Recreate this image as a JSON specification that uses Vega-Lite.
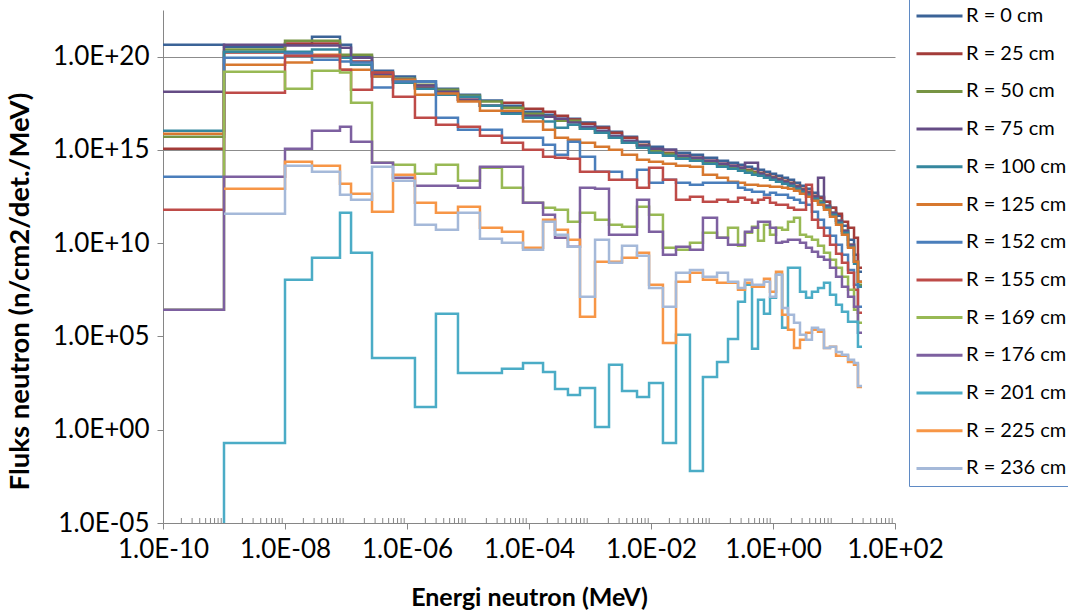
{
"$schema": "https://vega.github.io/schema/vega-lite/v6.json",
"width": 732, "height": 513,
"autosize": {"type": "none"},
"padding": {"left": 163, "top": 10, "right": 173, "bottom": 88},
"background": "white",
"config": {"view": {"stroke": null}, "font": "Lato"},
"layer": [
{
"data": {"values": [
{"r":0,"e":1e-10,"f":4.4e20},{"r":0,"e":1e-9,"f":3.4e20},{"r":0,"e":1e-8,"f":4.4e20},{"r":0,"e":2.77e-8,"f":1.18e21},{"r":0,"e":7.97e-8,"f":4.4e20},{"r":0,"e":1.21e-7,"f":1.0e20},{"r":0,"e":2.67e-7,"f":1.77e19},{"r":0,"e":5.9e-7,"f":8.5e18},{"r":0,"e":1.35e-6,"f":4.6e18},{"r":0,"e":2.98e-6,"f":1.92e18},{"r":0,"e":6.85e-6,"f":9.1e17},{"r":0,"e":1.57e-5,"f":4.4e17},{"r":0,"e":3.6e-5,"f":2.35e17},{"r":0,"e":7.98e-5,"f":1.12e17},{"r":0,"e":1.7e-4,"f":7.7e16},{"r":0,"e":2.67e-4,"f":4.7e16},{"r":0,"e":4.35e-4,"f":4.7e16},{"r":0,"e":6.85e-4,"f":2.9e16},{"r":0,"e":1.21e-3,"f":1.76e16},{"r":0,"e":2.05e-3,"f":9.5e15},{"r":0,"e":3.35e-3,"f":5.1e15},{"r":0,"e":5.9e-3,"f":2.75e15},{"r":0,"e":9.3e-3,"f":1.49e15},{"r":0,"e":1.57e-2,"f":1.03e15},{"r":0,"e":2.57e-2,"f":7.1e14},{"r":0,"e":4.35e-2,"f":5.5e14},{"r":0,"e":7.1e-2,"f":3.8e14},{"r":0,"e":0.121,"f":2.6e14},{"r":0,"e":0.183,"f":2.06e14},{"r":0,"e":0.267,"f":1.61e14},{"r":0,"e":0.347,"f":1.26e14},{"r":0,"e":0.453,"f":9.8e13},{"r":0,"e":0.568,"f":8.7e13},{"r":0,"e":0.711,"f":6.8e13},{"r":0,"e":0.893,"f":5.3e13},{"r":0,"e":1.12,"f":4.1e13},{"r":0,"e":1.41,"f":3.2e13},{"r":0,"e":1.76,"f":2.5e13},{"r":0,"e":2.21,"f":1.74e13},{"r":0,"e":2.77,"f":1.2e13},{"r":0,"e":3.48,"f":8.3e12},{"r":0,"e":4.35,"f":5.1e12},{"r":0,"e":5.47,"f":3.1e12},{"r":0,"e":6.85,"f":1.66e12},{"r":0,"e":8.6,"f":7.9e11},{"r":0,"e":10.8,"f":2.95e11},{"r":0,"e":13.5,"f":8.6e10},{"r":0,"e":17,"f":1.52e10},{"r":0,"e":21.3,"f":2.4e9},{"r":0,"e":24.7,"f":2.9e8},{"r":0,"e":28.8,"f":2.9e8},
{"r":25,"e":1e-10,"f":1.16e15},{"r":25,"e":1e-9,"f":1.64e20},{"r":25,"e":1e-8,"f":5.0e20},{"r":25,"e":2.77e-8,"f":5.0e20},{"r":25,"e":7.97e-8,"f":1.13e20},{"r":25,"e":1.21e-7,"f":5.4e19},{"r":25,"e":2.67e-7,"f":9.6e18},{"r":25,"e":5.9e-7,"f":4.6e18},{"r":25,"e":1.35e-6,"f":2.2e18},{"r":25,"e":2.98e-6,"f":1.04e18},{"r":25,"e":6.85e-6,"f":4.9e17},{"r":25,"e":1.57e-5,"f":2.35e17},{"r":25,"e":3.6e-5,"f":3.4e17},{"r":25,"e":7.98e-5,"f":1.62e17},{"r":25,"e":1.7e-4,"f":1.12e17},{"r":25,"e":2.67e-4,"f":6.8e16},{"r":25,"e":4.35e-4,"f":4.2e16},{"r":25,"e":6.85e-4,"f":2.5e16},{"r":25,"e":1.21e-3,"f":1.55e16},{"r":25,"e":2.05e-3,"f":8.4e15},{"r":25,"e":3.35e-3,"f":4.5e15},{"r":25,"e":5.9e-3,"f":1.9e15},{"r":25,"e":9.3e-3,"f":1.03e15},{"r":25,"e":1.57e-2,"f":7.1e14},{"r":25,"e":2.57e-2,"f":4.9e14},{"r":25,"e":4.35e-2,"f":3.8e14},{"r":25,"e":7.1e-2,"f":2.6e14},{"r":25,"e":0.121,"f":1.82e14},{"r":25,"e":0.183,"f":1.42e14},{"r":25,"e":0.267,"f":1.11e14},{"r":25,"e":0.347,"f":8.7e13},{"r":25,"e":0.453,"f":6.8e13},{"r":25,"e":0.568,"f":6.0e13},{"r":25,"e":0.711,"f":4.7e13},{"r":25,"e":0.893,"f":3.65e13},{"r":25,"e":1.12,"f":2.85e13},{"r":25,"e":1.41,"f":2.2e13},{"r":25,"e":1.76,"f":1.74e13},{"r":25,"e":2.21,"f":1.2e13},{"r":25,"e":2.77,"f":8.3e12},{"r":25,"e":3.48,"f":5.7e12},{"r":25,"e":4.35,"f":3.5e12},{"r":25,"e":5.47,"f":2.7e12},{"r":25,"e":6.85,"f":1.66e12},{"r":25,"e":8.6,"f":7.9e11},{"r":25,"e":10.8,"f":3.8e11},{"r":25,"e":13.5,"f":1.4e11},{"r":25,"e":17,"f":6.7e10},{"r":25,"e":21.3,"f":1.95e10},{"r":25,"e":24.7,"f":4.8e8},{"r":25,"e":28.8,"f":4.8e8},
{"r":50,"e":1e-10,"f":5.1e15},{"r":50,"e":1e-9,"f":2.4e20},{"r":50,"e":1e-8,"f":7.2e20},{"r":50,"e":2.77e-8,"f":7.2e20},{"r":50,"e":7.97e-8,"f":1.28e20},{"r":50,"e":1.21e-7,"f":1.28e20},{"r":50,"e":2.67e-7,"f":1.39e19},{"r":50,"e":5.9e-7,"f":6.6e18},{"r":50,"e":1.35e-6,"f":3.1e18},{"r":50,"e":2.98e-6,"f":1.7e18},{"r":50,"e":6.85e-6,"f":8.1e17},{"r":50,"e":1.57e-5,"f":3.9e17},{"r":50,"e":3.6e-5,"f":1.84e17},{"r":50,"e":7.98e-5,"f":8.8e16},{"r":50,"e":1.7e-4,"f":6.0e16},{"r":50,"e":2.67e-4,"f":3.7e16},{"r":50,"e":4.35e-4,"f":3.7e16},{"r":50,"e":6.85e-4,"f":1.37e16},{"r":50,"e":1.21e-3,"f":8.4e15},{"r":50,"e":2.05e-3,"f":4.5e15},{"r":50,"e":3.35e-3,"f":2.4e15},{"r":50,"e":5.9e-3,"f":1.68e15},{"r":50,"e":9.3e-3,"f":9.1e14},{"r":50,"e":1.57e-2,"f":6.3e14},{"r":50,"e":2.57e-2,"f":4.3e14},{"r":50,"e":4.35e-2,"f":3.4e14},{"r":50,"e":7.1e-2,"f":2.3e14},{"r":50,"e":0.121,"f":1.61e14},{"r":50,"e":0.183,"f":1.26e14},{"r":50,"e":0.267,"f":9.8e13},{"r":50,"e":0.347,"f":7.7e13},{"r":50,"e":0.453,"f":6.0e13},{"r":50,"e":0.568,"f":5.3e13},{"r":50,"e":0.711,"f":4.1e13},{"r":50,"e":0.893,"f":3.2e13},{"r":50,"e":1.12,"f":2.5e13},{"r":50,"e":1.41,"f":1.97e13},{"r":50,"e":1.76,"f":1.54e13},{"r":50,"e":2.21,"f":1.06e13},{"r":50,"e":2.77,"f":7.3e12},{"r":50,"e":3.48,"f":5.1e12},{"r":50,"e":4.35,"f":3.1e12},{"r":50,"e":5.47,"f":1.88e12},{"r":50,"e":6.85,"f":1.01e12},{"r":50,"e":8.6,"f":4.3e11},{"r":50,"e":10.8,"f":1.6e11},{"r":50,"e":13.5,"f":4.6e10},{"r":50,"e":17,"f":8.2e9},{"r":50,"e":21.3,"f":1.0e9},{"r":50,"e":24.7,"f":5.9e7},{"r":50,"e":28.8,"f":5.9e7},
{"r":75,"e":1e-10,"f":1.33e18},{"r":75,"e":1e-9,"f":4.4e20},{"r":75,"e":1e-8,"f":3.9e20},{"r":75,"e":2.77e-8,"f":3.9e20},{"r":75,"e":7.97e-8,"f":3.0e20},{"r":75,"e":1.21e-7,"f":8.8e19},{"r":75,"e":2.67e-7,"f":1.22e19},{"r":75,"e":5.9e-7,"f":5.8e18},{"r":75,"e":1.35e-6,"f":2.8e18},{"r":75,"e":2.98e-6,"f":1.33e18},{"r":75,"e":6.85e-6,"f":4.9e17},{"r":75,"e":1.57e-5,"f":2.35e17},{"r":75,"e":3.6e-5,"f":9.9e16},{"r":75,"e":7.98e-5,"f":6.8e16},{"r":75,"e":1.7e-4,"f":6.0e16},{"r":75,"e":2.67e-4,"f":4.7e16},{"r":75,"e":4.35e-4,"f":2.9e16},{"r":75,"e":6.85e-4,"f":1.76e16},{"r":75,"e":1.21e-3,"f":1.07e16},{"r":75,"e":2.05e-3,"f":5.8e15},{"r":75,"e":3.35e-3,"f":3.1e15},{"r":75,"e":5.9e-3,"f":1.68e15},{"r":75,"e":9.3e-3,"f":1.16e15},{"r":75,"e":1.57e-2,"f":1.03e15},{"r":75,"e":2.57e-2,"f":4.9e14},{"r":75,"e":4.35e-2,"f":3.8e14},{"r":75,"e":7.1e-2,"f":2.6e14},{"r":75,"e":0.121,"f":1.82e14},{"r":75,"e":0.183,"f":1.42e14},{"r":75,"e":0.267,"f":1.11e14},{"r":75,"e":0.347,"f":2.06e14},{"r":75,"e":0.453,"f":2.06e14},{"r":75,"e":0.568,"f":5.3e13},{"r":75,"e":0.711,"f":4.1e13},{"r":75,"e":0.893,"f":3.2e13},{"r":75,"e":1.12,"f":2.5e13},{"r":75,"e":1.41,"f":1.97e13},{"r":75,"e":1.76,"f":1.54e13},{"r":75,"e":2.21,"f":1.06e13},{"r":75,"e":2.77,"f":7.3e12},{"r":75,"e":3.48,"f":5.1e12},{"r":75,"e":4.35,"f":3.1e12},{"r":75,"e":5.47,"f":3.2e13},{"r":75,"e":6.85,"f":1.01e12},{"r":75,"e":8.6,"f":4.3e11},{"r":75,"e":10.8,"f":1.6e11},{"r":75,"e":13.5,"f":4.6e10},{"r":75,"e":17,"f":8.2e9},{"r":75,"e":21.3,"f":1.0e9},{"r":75,"e":24.7,"f":8.5e7},{"r":75,"e":28.8,"f":8.5e7},
{"r":100,"e":1e-10,"f":1.07e16},{"r":100,"e":1e-9,"f":1.85e20},{"r":100,"e":1e-8,"f":1.85e20},{"r":100,"e":2.77e-8,"f":2.4e20},{"r":100,"e":7.97e-8,"f":8.8e19},{"r":100,"e":1.21e-7,"f":3.7e19},{"r":100,"e":2.67e-7,"f":8.5e18},{"r":100,"e":5.9e-7,"f":4.0e18},{"r":100,"e":1.35e-6,"f":1.92e18},{"r":100,"e":2.98e-6,"f":9.1e17},{"r":100,"e":6.85e-6,"f":7.1e17},{"r":100,"e":1.57e-5,"f":2.35e17},{"r":100,"e":3.6e-5,"f":8.8e16},{"r":100,"e":7.98e-5,"f":5.3e16},{"r":100,"e":1.7e-4,"f":3.3e16},{"r":100,"e":2.67e-4,"f":1.55e16},{"r":100,"e":4.35e-4,"f":2.25e16},{"r":100,"e":6.85e-4,"f":1.37e16},{"r":100,"e":1.21e-3,"f":8.4e15},{"r":100,"e":2.05e-3,"f":4.5e15},{"r":100,"e":3.35e-3,"f":2.4e15},{"r":100,"e":5.9e-3,"f":1.31e15},{"r":100,"e":9.3e-3,"f":7.1e14},{"r":100,"e":1.57e-2,"f":4.9e14},{"r":100,"e":2.57e-2,"f":3.4e14},{"r":100,"e":4.35e-2,"f":2.6e14},{"r":100,"e":7.1e-2,"f":1.82e14},{"r":100,"e":0.121,"f":1.26e14},{"r":100,"e":0.183,"f":9.8e13},{"r":100,"e":0.267,"f":7.7e13},{"r":100,"e":0.347,"f":6.0e13},{"r":100,"e":0.453,"f":4.7e13},{"r":100,"e":0.568,"f":4.1e13},{"r":100,"e":0.711,"f":3.2e13},{"r":100,"e":0.893,"f":2.5e13},{"r":100,"e":1.12,"f":1.97e13},{"r":100,"e":1.41,"f":1.54e13},{"r":100,"e":1.76,"f":1.2e13},{"r":100,"e":2.21,"f":8.3e12},{"r":100,"e":2.77,"f":5.7e12},{"r":100,"e":3.48,"f":3.95e12},{"r":100,"e":4.35,"f":2.4e12},{"r":100,"e":5.47,"f":1.47e12},{"r":100,"e":6.85,"f":7.9e11},{"r":100,"e":8.6,"f":3.3e11},{"r":100,"e":10.8,"f":1.24e11},{"r":100,"e":13.5,"f":3.6e10},{"r":100,"e":17,"f":6.4e9},{"r":100,"e":21.3,"f":7.9e8},{"r":100,"e":24.7,"f":4.6e7},{"r":100,"e":28.8,"f":4.6e7},
{"r":125,"e":1e-10,"f":7.4e15},{"r":125,"e":1e-9,"f":3.7e19},{"r":125,"e":1e-8,"f":4.8e19},{"r":125,"e":2.77e-8,"f":1.28e20},{"r":125,"e":7.97e-8,"f":2.0e19},{"r":125,"e":1.21e-7,"f":2.0e19},{"r":125,"e":2.67e-7,"f":8.5e18},{"r":125,"e":5.9e-7,"f":5.8e18},{"r":125,"e":1.35e-6,"f":9.1e17},{"r":125,"e":2.98e-6,"f":1.04e18},{"r":125,"e":6.85e-6,"f":3.9e17},{"r":125,"e":1.57e-5,"f":1.27e17},{"r":125,"e":3.6e-5,"f":1.27e17},{"r":125,"e":7.98e-5,"f":3.3e16},{"r":125,"e":1.7e-4,"f":1.21e16},{"r":125,"e":2.67e-4,"f":4.5e15},{"r":125,"e":4.35e-4,"f":3.5e15},{"r":125,"e":6.85e-4,"f":2.4e15},{"r":125,"e":1.21e-3,"f":1.49e15},{"r":125,"e":2.05e-3,"f":1.03e15},{"r":125,"e":3.35e-3,"f":5.5e14},{"r":125,"e":5.9e-3,"f":3.0e14},{"r":125,"e":9.3e-3,"f":2.3e14},{"r":125,"e":1.57e-2,"f":1.82e14},{"r":125,"e":2.57e-2,"f":1.42e14},{"r":125,"e":4.35e-2,"f":1.26e14},{"r":125,"e":7.1e-2,"f":4.7e13},{"r":125,"e":0.121,"f":3.2e13},{"r":125,"e":0.183,"f":1.97e13},{"r":125,"e":0.267,"f":1.74e13},{"r":125,"e":0.347,"f":1.36e13},{"r":125,"e":0.453,"f":1.36e13},{"r":125,"e":0.568,"f":1.2e13},{"r":125,"e":0.711,"f":1.2e13},{"r":125,"e":0.893,"f":1.06e13},{"r":125,"e":1.12,"f":1.06e13},{"r":125,"e":1.41,"f":9.4e12},{"r":125,"e":1.76,"f":8.3e12},{"r":125,"e":2.21,"f":6.5e12},{"r":125,"e":2.77,"f":4.5e12},{"r":125,"e":3.48,"f":3.1e12},{"r":125,"e":4.35,"f":1.88e12},{"r":125,"e":5.47,"f":1.15e12},{"r":125,"e":6.85,"f":6.2e11},{"r":125,"e":8.6,"f":2.6e11},{"r":125,"e":10.8,"f":9.7e10},{"r":125,"e":13.5,"f":2.8e10},{"r":125,"e":17,"f":5.7e9},{"r":125,"e":21.3,"f":1.0e9},{"r":125,"e":24.7,"f":8.5e7},{"r":125,"e":28.8,"f":8.5e7},
{"r":152,"e":1e-10,"f":3.65e13},{"r":152,"e":1e-9,"f":8.8e19},{"r":152,"e":1e-8,"f":1.45e20},{"r":152,"e":2.77e-8,"f":6.9e19},{"r":152,"e":7.97e-8,"f":5.4e19},{"r":152,"e":1.21e-7,"f":4.8e19},{"r":152,"e":2.67e-7,"f":2.2e18},{"r":152,"e":5.9e-7,"f":4.6e18},{"r":152,"e":1.35e-6,"f":4.6e18},{"r":152,"e":2.98e-6,"f":5.3e16},{"r":152,"e":6.85e-6,"f":1.21e16},{"r":152,"e":1.57e-5,"f":1.21e16},{"r":152,"e":3.6e-5,"f":4.5e15},{"r":152,"e":7.98e-5,"f":4.5e15},{"r":152,"e":1.7e-4,"f":1.9e15},{"r":152,"e":2.67e-4,"f":5.5e14},{"r":152,"e":4.35e-4,"f":2.75e15},{"r":152,"e":6.85e-4,"f":4.3e14},{"r":152,"e":1.21e-3,"f":6.8e13},{"r":152,"e":2.05e-3,"f":6.8e13},{"r":152,"e":3.35e-3,"f":2.5e13},{"r":152,"e":5.9e-3,"f":8.7e13},{"r":152,"e":9.3e-3,"f":1.74e13},{"r":152,"e":1.57e-2,"f":2.5e13},{"r":152,"e":2.57e-2,"f":1.74e13},{"r":152,"e":4.35e-2,"f":1.36e13},{"r":152,"e":7.1e-2,"f":1.74e13},{"r":152,"e":0.121,"f":1.74e13},{"r":152,"e":0.183,"f":1.74e13},{"r":152,"e":0.267,"f":9.4e12},{"r":152,"e":0.347,"f":7.3e12},{"r":152,"e":0.453,"f":5.7e12},{"r":152,"e":0.568,"f":5.7e12},{"r":152,"e":0.711,"f":3.95e12},{"r":152,"e":0.893,"f":5.1e12},{"r":152,"e":1.12,"f":3.95e12},{"r":152,"e":1.41,"f":3.95e12},{"r":152,"e":1.76,"f":2.7e12},{"r":152,"e":2.21,"f":2.13e12},{"r":152,"e":2.77,"f":1.47e12},{"r":152,"e":3.48,"f":1.15e12},{"r":152,"e":4.35,"f":4.8e11},{"r":152,"e":5.47,"f":1.8e11},{"r":152,"e":6.85,"f":6.7e10},{"r":152,"e":8.6,"f":2.5e10},{"r":152,"e":10.8,"f":8.2e9},{"r":152,"e":13.5,"f":2.4e9},{"r":152,"e":17,"f":3.7e8},{"r":152,"e":21.3,"f":5.9e7},{"r":152,"e":24.7,"f":3.9e6},{"r":152,"e":28.8,"f":3.9e6},
{"r":155,"e":1e-10,"f":6.2e11},{"r":155,"e":1e-9,"f":1.17e18},{"r":155,"e":1e-8,"f":1.13e20},{"r":155,"e":2.77e-8,"f":1.13e20},{"r":155,"e":7.97e-8,"f":2.0e19},{"r":155,"e":1.21e-7,"f":1.7e18},{"r":155,"e":2.67e-7,"f":1.39e19},{"r":155,"e":5.9e-7,"f":7.1e17},{"r":155,"e":1.35e-6,"f":5.3e16},{"r":155,"e":2.98e-6,"f":2.25e16},{"r":155,"e":6.85e-6,"f":1.76e16},{"r":155,"e":1.57e-5,"f":5.8e15},{"r":155,"e":3.6e-5,"f":2.4e15},{"r":155,"e":7.98e-5,"f":1.03e15},{"r":155,"e":1.7e-4,"f":4.3e14},{"r":155,"e":2.67e-4,"f":3.8e14},{"r":155,"e":4.35e-4,"f":3.4e14},{"r":155,"e":6.85e-4,"f":6.8e13},{"r":155,"e":1.21e-3,"f":6.8e13},{"r":155,"e":2.05e-3,"f":2.5e13},{"r":155,"e":3.35e-3,"f":2.5e13},{"r":155,"e":5.9e-3,"f":9.4e12},{"r":155,"e":9.3e-3,"f":1.11e14},{"r":155,"e":1.57e-2,"f":2.5e13},{"r":155,"e":2.57e-2,"f":2.13e12},{"r":155,"e":4.35e-2,"f":3.1e12},{"r":155,"e":7.1e-2,"f":1.66e12},{"r":155,"e":0.121,"f":2.13e12},{"r":155,"e":0.183,"f":1.66e12},{"r":155,"e":0.267,"f":2.7e12},{"r":155,"e":0.347,"f":2.13e12},{"r":155,"e":0.453,"f":1.47e12},{"r":155,"e":0.568,"f":2.13e12},{"r":155,"e":0.711,"f":2.7e12},{"r":155,"e":0.893,"f":1.47e12},{"r":155,"e":1.12,"f":1.15e12},{"r":155,"e":1.41,"f":1.15e12},{"r":155,"e":1.76,"f":7.9e11},{"r":155,"e":2.21,"f":6.2e11},{"r":155,"e":2.77,"f":6.2e11},{"r":155,"e":3.48,"f":1.36e13},{"r":155,"e":4.35,"f":1.8e11},{"r":155,"e":5.47,"f":6.7e10},{"r":155,"e":6.85,"f":2.5e10},{"r":155,"e":8.6,"f":8.2e9},{"r":155,"e":10.8,"f":2.7e9},{"r":155,"e":13.5,"f":8.9e8},{"r":155,"e":17,"f":2.6e8},{"r":155,"e":21.3,"f":3.2e7},{"r":155,"e":24.7,"f":1.85e6},{"r":155,"e":28.8,"f":1.85e6},
{"r":169,"e":1e-10,"f":2.7e6},{"r":169,"e":1e-9,"f":1.57e19},{"r":169,"e":1e-8,"f":1.92e18},{"r":169,"e":2.77e-8,"f":1.77e19},{"r":169,"e":7.97e-8,"f":1.39e19},{"r":169,"e":1.21e-7,"f":3.4e17},{"r":169,"e":2.67e-7,"f":2.06e14},{"r":169,"e":5.9e-7,"f":1.61e14},{"r":169,"e":1.35e-6,"f":5.3e13},{"r":169,"e":2.98e-6,"f":1.61e14},{"r":169,"e":6.85e-6,"f":2.2e13},{"r":169,"e":1.57e-5,"f":1.11e14},{"r":169,"e":3.6e-5,"f":9.4e12},{"r":169,"e":7.98e-5,"f":1.47e12},{"r":169,"e":1.7e-4,"f":7.9e11},{"r":169,"e":2.67e-4,"f":6.2e11},{"r":169,"e":4.35e-4,"f":1.4e11},{"r":169,"e":6.85e-4,"f":4.3e11},{"r":169,"e":1.21e-3,"f":1.8e11},{"r":169,"e":2.05e-3,"f":9.7e10},{"r":169,"e":3.35e-3,"f":7.6e10},{"r":169,"e":5.9e-3,"f":9.0e11},{"r":169,"e":9.3e-3,"f":3.3e11},{"r":169,"e":1.57e-2,"f":5.7e9},{"r":169,"e":2.57e-2,"f":4.4e9},{"r":169,"e":4.35e-2,"f":1.05e10},{"r":169,"e":7.1e-2,"f":3.6e10},{"r":169,"e":0.121,"f":1.95e10},{"r":169,"e":0.183,"f":6.7e10},{"r":169,"e":0.267,"f":7.2e9},{"r":169,"e":0.347,"f":3.6e10},{"r":169,"e":0.453,"f":7.6e10},{"r":169,"e":0.568,"f":1.35e10},{"r":169,"e":0.711,"f":9.7e10},{"r":169,"e":0.893,"f":2.8e10},{"r":169,"e":1.12,"f":6.7e10},{"r":169,"e":1.41,"f":5.2e10},{"r":169,"e":1.76,"f":1.4e11},{"r":169,"e":2.21,"f":2.3e11},{"r":169,"e":2.77,"f":2.8e10},{"r":169,"e":3.48,"f":2.2e10},{"r":169,"e":4.35,"f":1.52e10},{"r":169,"e":5.47,"f":7.2e9},{"r":169,"e":6.85,"f":3.05e9},{"r":169,"e":8.6,"f":1.29e9},{"r":169,"e":10.8,"f":4.8e8},{"r":169,"e":13.5,"f":1.57e8},{"r":169,"e":17,"f":3.2e7},{"r":169,"e":21.3,"f":2.7e6},{"r":169,"e":24.7,"f":5.4e5},{"r":169,"e":28.8,"f":5.4e5},
{"r":176,"e":1e-10,"f":2.7e6},{"r":176,"e":1e-9,"f":3.65e13},{"r":176,"e":1e-8,"f":1.16e15},{"r":176,"e":2.77e-8,"f":1.07e16},{"r":176,"e":7.97e-8,"f":1.76e16},{"r":176,"e":1.21e-7,"f":2.75e15},{"r":176,"e":2.67e-7,"f":2.06e14},{"r":176,"e":5.9e-7,"f":3.2e13},{"r":176,"e":1.35e-6,"f":1.2e13},{"r":176,"e":2.98e-6,"f":1.2e13},{"r":176,"e":6.85e-6,"f":9.4e12},{"r":176,"e":1.57e-5,"f":1.26e14},{"r":176,"e":3.6e-5,"f":1.26e14},{"r":176,"e":7.98e-5,"f":1.47e12},{"r":176,"e":1.7e-4,"f":3.3e11},{"r":176,"e":2.67e-4,"f":1.95e10},{"r":176,"e":4.35e-4,"f":6.4e9},{"r":176,"e":6.85e-4,"f":9.4e12},{"r":176,"e":1.21e-3,"f":8.3e12},{"r":176,"e":2.05e-3,"f":2.8e10},{"r":176,"e":3.35e-3,"f":2.8e10},{"r":176,"e":5.9e-3,"f":2.13e12},{"r":176,"e":9.3e-3,"f":4.1e10},{"r":176,"e":1.57e-2,"f":2.4e9},{"r":176,"e":2.57e-2,"f":6.4e9},{"r":176,"e":4.35e-2,"f":4.4e9},{"r":176,"e":7.1e-2,"f":2.3e11},{"r":176,"e":0.121,"f":1.95e10},{"r":176,"e":0.183,"f":8.2e9},{"r":176,"e":0.267,"f":8.2e9},{"r":176,"e":0.347,"f":4.1e10},{"r":176,"e":0.453,"f":6.7e10},{"r":176,"e":0.568,"f":1.4e11},{"r":176,"e":0.711,"f":1.4e11},{"r":176,"e":0.893,"f":6.7e10},{"r":176,"e":1.12,"f":1.05e10},{"r":176,"e":1.41,"f":1.19e10},{"r":176,"e":1.76,"f":1.52e10},{"r":176,"e":2.21,"f":1.52e10},{"r":176,"e":2.77,"f":1.05e10},{"r":176,"e":3.48,"f":5.7e9},{"r":176,"e":4.35,"f":3.5e9},{"r":176,"e":5.47,"f":1.86e9},{"r":176,"e":6.85,"f":1.29e9},{"r":176,"e":8.6,"f":4.8e8},{"r":176,"e":10.8,"f":1.57e8},{"r":176,"e":13.5,"f":4.6e7},{"r":176,"e":17,"f":1.33e7},{"r":176,"e":21.3,"f":3.9e6},{"r":176,"e":24.7,"f":1.56e5},{"r":176,"e":28.8,"f":1.56e5},
{"r":201,"e":1e-10,"f":1e-8},{"r":201,"e":1e-9,"f":0.195},{"r":201,"e":1e-8,"f":1.09e8},{"r":201,"e":2.77e-8,"f":1.65e9},{"r":201,"e":7.97e-8,"f":4.3e11},{"r":201,"e":1.21e-7,"f":3.05e9},{"r":201,"e":2.67e-7,"f":7.1e3},{"r":201,"e":5.9e-7,"f":7.1e3},{"r":201,"e":1.35e-6,"f":16.7},{"r":201,"e":2.98e-6,"f":1.63e6},{"r":201,"e":6.85e-6,"f":1.11e3},{"r":201,"e":1.57e-5,"f":1.11e3},{"r":201,"e":3.6e-5,"f":1.83e3},{"r":201,"e":7.98e-5,"f":3.8e3},{"r":201,"e":1.7e-4,"f":1.26e3},{"r":201,"e":2.67e-4,"f":154},{"r":201,"e":4.35e-4,"f":73},{"r":201,"e":6.85e-4,"f":175},{"r":201,"e":1.21e-3,"f":1.41},{"r":201,"e":2.05e-3,"f":3.0e3},{"r":201,"e":3.35e-3,"f":120},{"r":201,"e":5.9e-3,"f":57},{"r":201,"e":9.3e-3,"f":324},{"r":201,"e":1.57e-2,"f":0.195},{"r":201,"e":2.57e-2,"f":1.22e5},{"r":201,"e":4.35e-2,"f":0.0062},{"r":201,"e":7.1e-2,"f":680},{"r":201,"e":0.121,"f":4.3e3},{"r":201,"e":0.183,"f":7.4e4},{"r":201,"e":0.267,"f":7.2e6},{"r":201,"e":0.347,"f":5.9e7},{"r":201,"e":0.453,"f":2.16e4},{"r":201,"e":0.568,"f":9.2e6},{"r":201,"e":0.711,"f":1.63e6},{"r":201,"e":0.893,"f":1.18e7},{"r":201,"e":1.12,"f":2.0e8},{"r":201,"e":1.41,"f":2.9e5},{"r":201,"e":1.76,"f":4.8e8},{"r":201,"e":2.21,"f":4.8e8},{"r":201,"e":2.77,"f":2.5e7},{"r":201,"e":3.48,"f":1.18e7},{"r":201,"e":4.35,"f":2.5e7},{"r":201,"e":5.47,"f":4.0e7},{"r":201,"e":6.85,"f":7.5e7},{"r":201,"e":8.6,"f":1.7e7},{"r":201,"e":10.8,"f":5.0e6},{"r":201,"e":13.5,"f":2.1e6},{"r":201,"e":17,"f":6.1e5},{"r":201,"e":21.3,"f":6.1e5},{"r":201,"e":24.7,"f":2.8e4},{"r":201,"e":28.8,"f":2.8e4},
{"r":225,"e":1e-9,"f":8.3e12},{"r":225,"e":1e-8,"f":2.3e14},{"r":225,"e":2.77e-8,"f":1.42e14},{"r":225,"e":7.97e-8,"f":1.54e13},{"r":225,"e":1.21e-7,"f":4.5e12},{"r":225,"e":2.67e-7,"f":4.8e11},{"r":225,"e":5.9e-7,"f":4.7e13},{"r":225,"e":1.35e-6,"f":1.47e12},{"r":225,"e":2.98e-6,"f":4.3e11},{"r":225,"e":6.85e-6,"f":9.0e11},{"r":225,"e":1.57e-5,"f":6.7e10},{"r":225,"e":3.6e-5,"f":4.1e10},{"r":225,"e":7.98e-5,"f":5.7e9},{"r":225,"e":1.7e-4,"f":1.8e11},{"r":225,"e":2.67e-4,"f":5.2e10},{"r":225,"e":4.35e-4,"f":1.52e10},{"r":225,"e":6.85e-4,"f":1.13e6},{"r":225,"e":1.21e-3,"f":1.0e9},{"r":225,"e":2.05e-3,"f":1.0e9},{"r":225,"e":3.35e-3,"f":1.65e9},{"r":225,"e":5.9e-3,"f":3.05e9},{"r":225,"e":9.3e-3,"f":5.9e7},{"r":225,"e":1.57e-2,"f":4.5e4},{"r":225,"e":2.57e-2,"f":8.5e7},{"r":225,"e":4.35e-2,"f":2.6e8},{"r":225,"e":7.1e-2,"f":1.09e8},{"r":225,"e":0.121,"f":7.5e7},{"r":225,"e":0.183,"f":7.5e7},{"r":225,"e":0.267,"f":3.2e7},{"r":225,"e":0.347,"f":7.5e7},{"r":225,"e":0.453,"f":4.6e7},{"r":225,"e":0.568,"f":4.6e7},{"r":225,"e":0.711,"f":1.23e8},{"r":225,"e":0.893,"f":2.5e7},{"r":225,"e":1.12,"f":2.9e8},{"r":225,"e":1.41,"f":1.44e6},{"r":225,"e":1.76,"f":2.26e5},{"r":225,"e":2.21,"f":2.4e4},{"r":225,"e":2.77,"f":6.6e4},{"r":225,"e":3.48,"f":1.56e5},{"r":225,"e":4.35,"f":2.26e5},{"r":225,"e":5.47,"f":1.77e5},{"r":225,"e":6.85,"f":2.4e4},{"r":225,"e":8.6,"f":2.8e4},{"r":225,"e":10.8,"f":9.1e3},{"r":225,"e":13.5,"f":9.1e3},{"r":225,"e":17,"f":4.3e3},{"r":225,"e":21.3,"f":3.0e3},{"r":225,"e":24.7,"f":197},{"r":225,"e":28.8,"f":197},
{"r":236,"e":1e-9,"f":3.8e11},{"r":236,"e":1e-8,"f":1.42e14},{"r":236,"e":2.77e-8,"f":6.8e13},{"r":236,"e":7.97e-8,"f":3.95e12},{"r":236,"e":1.21e-7,"f":2.13e12},{"r":236,"e":2.67e-7,"f":1.26e14},{"r":236,"e":5.9e-7,"f":2.2e13},{"r":236,"e":1.35e-6,"f":9.7e10},{"r":236,"e":2.98e-6,"f":5.2e10},{"r":236,"e":6.85e-6,"f":4.3e11},{"r":236,"e":1.57e-5,"f":1.72e10},{"r":236,"e":3.6e-5,"f":1.05e10},{"r":236,"e":7.98e-5,"f":4.4e9},{"r":236,"e":1.7e-4,"f":1.4e11},{"r":236,"e":2.67e-4,"f":2.8e10},{"r":236,"e":4.35e-4,"f":6.4e9},{"r":236,"e":6.85e-4,"f":1.33e7},{"r":236,"e":1.21e-3,"f":1.52e10},{"r":236,"e":2.05e-3,"f":8.9e8},{"r":236,"e":3.35e-3,"f":7.2e9},{"r":236,"e":5.9e-3,"f":2.1e9},{"r":236,"e":9.3e-3,"f":4.0e7},{"r":236,"e":1.57e-2,"f":3.9e6},{"r":236,"e":2.57e-2,"f":2.6e8},{"r":236,"e":4.35e-2,"f":3.7e8},{"r":236,"e":7.1e-2,"f":1.57e8},{"r":236,"e":0.121,"f":2.6e8},{"r":236,"e":0.183,"f":8.5e7},{"r":236,"e":0.267,"f":4.0e7},{"r":236,"e":0.347,"f":1.09e8},{"r":236,"e":0.453,"f":5.9e7},{"r":236,"e":0.568,"f":5.9e7},{"r":236,"e":0.711,"f":8.5e7},{"r":236,"e":0.893,"f":1.33e7},{"r":236,"e":1.12,"f":2.0e8},{"r":236,"e":1.41,"f":3.4e6},{"r":236,"e":1.76,"f":1.44e6},{"r":236,"e":2.21,"f":5.4e5},{"r":236,"e":2.77,"f":1.22e5},{"r":236,"e":3.48,"f":6.6e4},{"r":236,"e":4.35,"f":2.9e5},{"r":236,"e":5.47,"f":2.26e5},{"r":236,"e":6.85,"f":2.4e4},{"r":236,"e":8.6,"f":2.8e4},{"r":236,"e":10.8,"f":1.49e4},{"r":236,"e":13.5,"f":1.03e4},{"r":236,"e":17,"f":5.6e3},{"r":236,"e":21.3,"f":3.8e3},{"r":236,"e":24.7,"f":223},{"r":236,"e":28.8,"f":223}
]},
"mark": {"type": "line", "interpolate": "step-after", "strokeWidth": 2.5, "clip": true},
"encoding": {
"x": {"field": "e", "type": "quantitative",
  "scale": {"type": "log", "domain": [1e-10, 100], "nice": false},
  "axis": {"values": [1e-10, 1e-8, 1e-6, 1e-4, 1e-2, 1, 100],
    "labelExpr": "'1.0E' + (datum.value >= 1 ? '+' : '-') + (abs(round(log(datum.value) / LN10)) < 10 ? '0' : '') + abs(round(log(datum.value) / LN10))",
    "title": "Energi neutron (MeV)", "titleFont": "Lato", "titleFontSize": 25, "titleFontWeight": "bold", "titleColor": "#000000",
    "titleY": 74, "titleBaseline": "middle",
    "labelFont": "Lato", "labelFontSize": 26, "labelColor": "#000000", "labelPadding": 7, "labelFlush": false, "labelOverlap": false,
    "grid": false, "tickSize": 6, "tickColor": "#868686", "domainColor": "#868686", "domainWidth": 1}},
"y": {"field": "f", "type": "quantitative",
  "scale": {"type": "log", "domain": [1e-5, 3.16e22], "nice": false},
  "axis": {"values": [1e-5, 1, 1e5, 1e10, 1e15, 1e20],
    "labelExpr": "'1.0E' + (datum.value >= 1 ? '+' : '-') + (abs(round(log(datum.value) / LN10)) < 10 ? '0' : '') + abs(round(log(datum.value) / LN10))",
    "title": "Fluks neutron (n/cm2/det./MeV)", "titleFont": "Lato", "titleFontSize": 27.5, "titleFontWeight": "bold", "titleColor": "#000000",
    "titleX": -143, "titleY": 281, "titleBaseline": "middle", "titleAngle": -90, "titleAlign": "center",
    "labelFont": "Lato", "labelFontSize": 26, "labelColor": "#000000", "labelPadding": 8, "labelOverlap": false,
    "grid": true, "gridColor": "#8C8C8C", "gridWidth": 1,
    "gridOpacity": {"condition": {"test": "datum.value > 1e14", "value": 1}, "value": 0},
    "tickSize": 6, "tickColor": "#868686", "domainColor": "#868686", "domainWidth": 1}},
"color": {"field": "r", "type": "nominal",
  "scale": {"domain": [0, 25, 50, 75, 100, 125, 152, 155, 169, 176, 201, 225, 236],
    "range": ["#3B6397", "#A33C39", "#779443", "#654C85", "#35879E", "#D7782F", "#4A7EBB", "#BE4B48", "#98B954", "#7D60A0", "#4BACC6", "#F79646", "#A5B9D9"]},
  "legend": {"orient": "none", "legendX": 746, "legendY": -11, "title": null,
    "symbolType": "stroke", "symbolSize": 2116, "symbolStrokeWidth": 3,
    "clipHeight": 22, "rowPadding": 15.7, "padding": 6,
    "labelFont": "Lato", "labelFontSize": 20, "labelColor": "#000000", "labelOffset": 2, "labelLimit": 200,
    "labelExpr": "'R = ' + datum.label + ' cm'",
    "strokeColor": "#5F8AC4", "fillColor": "#FFFFFF"}}
}
},
{
"data": {"values": [
{"e":2e-10},{"e":3e-10},{"e":4e-10},{"e":5e-10},{"e":6e-10},{"e":7e-10},{"e":8e-10},{"e":9e-10},
{"e":2e-9},{"e":3e-9},{"e":4e-9},{"e":5e-9},{"e":6e-9},{"e":7e-9},{"e":8e-9},{"e":9e-9},
{"e":2e-8},{"e":3e-8},{"e":4e-8},{"e":5e-8},{"e":6e-8},{"e":7e-8},{"e":8e-8},{"e":9e-8},
{"e":2e-7},{"e":3e-7},{"e":4e-7},{"e":5e-7},{"e":6e-7},{"e":7e-7},{"e":8e-7},{"e":9e-7},
{"e":2e-6},{"e":3e-6},{"e":4e-6},{"e":5e-6},{"e":6e-6},{"e":7e-6},{"e":8e-6},{"e":9e-6},
{"e":2e-5},{"e":3e-5},{"e":4e-5},{"e":5e-5},{"e":6e-5},{"e":7e-5},{"e":8e-5},{"e":9e-5},
{"e":2e-4},{"e":3e-4},{"e":4e-4},{"e":5e-4},{"e":6e-4},{"e":7e-4},{"e":8e-4},{"e":9e-4},
{"e":2e-3},{"e":3e-3},{"e":4e-3},{"e":5e-3},{"e":6e-3},{"e":7e-3},{"e":8e-3},{"e":9e-3},
{"e":2e-2},{"e":3e-2},{"e":4e-2},{"e":5e-2},{"e":6e-2},{"e":7e-2},{"e":8e-2},{"e":9e-2},
{"e":0.2},{"e":0.3},{"e":0.4},{"e":0.5},{"e":0.6},{"e":0.7},{"e":0.8},{"e":0.9},
{"e":2},{"e":3},{"e":4},{"e":5},{"e":6},{"e":7},{"e":8},{"e":9},
{"e":20},{"e":30},{"e":40},{"e":50},{"e":60},{"e":70},{"e":80},{"e":90}
]},
"mark": {"type": "rule", "color": "#868686", "strokeWidth": 1},
"encoding": {
"x": {"field": "e", "type": "quantitative", "scale": {"type": "log", "domain": [1e-10, 100], "nice": false}},
"y": {"datum": 1e-5, "type": "quantitative"},
"y2": {"datum": 1.85e-5}
}
}
]
}
